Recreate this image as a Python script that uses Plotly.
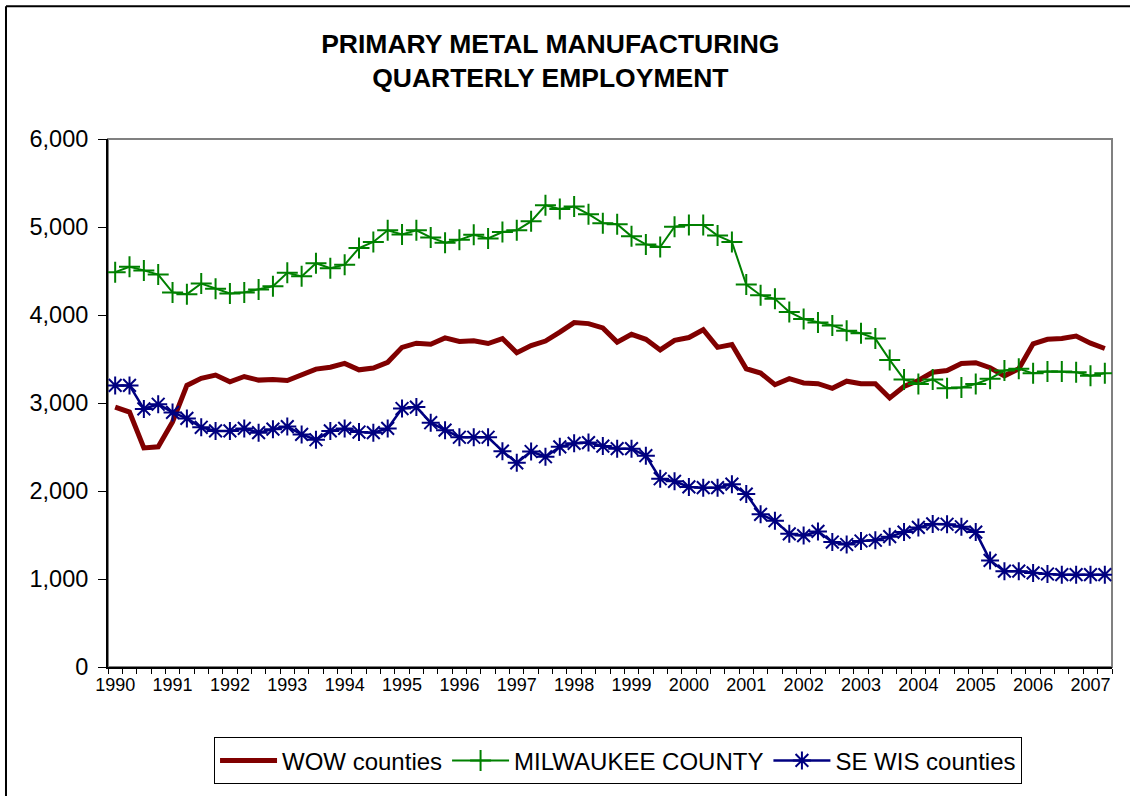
import plotly.graph_objects as go

# quarterly employment, 1990 Q1 .. 2007 Q2
years = [str(y) for y in range(1990, 2008)]
quarters = [f"{y} Q{q}" for y in years for q in (1, 2, 3, 4)][:70]

wow = [2954, 2897, 2490, 2502, 2784, 3200, 3280, 3317, 3240, 3301, 3260, 3268, 3256, 3321, 3385, 3406, 3450, 3377,
       3397, 3462, 3632, 3680, 3668, 3740, 3700, 3708, 3676, 3732, 3571, 3652, 3704, 3805, 3914, 3902,
       3853, 3692, 3781, 3724, 3603, 3712, 3744, 3833, 3632, 3664, 3389, 3341, 3208, 3276, 3228, 3220, 3167,
       3248, 3220, 3220, 3058, 3187, 3256, 3349, 3369, 3450, 3458, 3401, 3309, 3389, 3672, 3724, 3732, 3761, 3680, 3619]

milwaukee = [4487, 4547, 4507, 4459, 4257, 4237, 4358, 4297, 4245, 4257, 4289, 4326, 4479, 4439, 4588, 4531, 4572, 4761,
             4830, 4963, 4915, 4963, 4882, 4822, 4854, 4911, 4870, 4943, 4963, 5064, 5246, 5205, 5233, 5145,
             5044, 5032, 4894, 4802, 4773, 5003, 5024, 5024, 4902, 4830, 4346, 4225, 4184, 4035, 3954, 3914, 3882,
             3821, 3793, 3732, 3490, 3268, 3216, 3268, 3167, 3176, 3216, 3276, 3369, 3389, 3337, 3357, 3357, 3349, 3309, 3337]

se_wis = [3200, 3200, 2933, 2986, 2893, 2825, 2724, 2683, 2683, 2711, 2663, 2703, 2732, 2643, 2582, 2683, 2711, 2670,
          2663, 2711, 2937, 2954, 2776, 2691, 2611, 2611, 2611, 2453, 2320, 2449, 2389, 2502, 2542, 2550,
          2510, 2481, 2481, 2401, 2139, 2110, 2046, 2038, 2038, 2078, 1965, 1735, 1662, 1513, 1493, 1541, 1420,
          1392, 1432, 1440, 1481, 1533, 1586, 1626, 1622, 1594, 1533, 1211, 1089, 1089, 1069, 1057, 1049, 1049, 1049, 1049]

FONT = "Liberation Sans, Arial, sans-serif"


def main():
    fig = go.Figure()
    fig.add_trace(go.Scatter(x=quarters, y=wow, name="WOW counties", mode="lines",
                             line=dict(color="#800000", width=5)))
    fig.add_trace(go.Scatter(x=quarters, y=milwaukee, name="MILWAUKEE COUNTY", mode="lines+markers",
                             line=dict(color="#008000", width=2),
                             marker=dict(symbol="cross-thin-open", size=15,
                                         line=dict(color="#008000", width=2))))
    fig.add_trace(go.Scatter(x=quarters, y=se_wis, name="SE WIS counties", mode="lines+markers",
                             line=dict(color="#000080", width=2.5),
                             marker=dict(symbol="asterisk-open", size=15,
                                         line=dict(color="#000080", width=2))))

    ticktext = [q[:4] if q.endswith("Q1") else "" for q in quarters]

    fig.update_layout(
        width=1130, height=796,
        paper_bgcolor="white", plot_bgcolor="white",
        margin=dict(l=108, r=18, t=139, b=124),
        font=dict(family=FONT, color="black"),
        title=dict(text="PRIMARY METAL MANUFACTURING<br>QUARTERLY EMPLOYMENT",
                   font=dict(size=26.5, family=FONT, color="black", weight="bold"),
                   x=0.487, xanchor="center", y=0.934, yanchor="middle"),
        xaxis=dict(type="category", range=[-0.5, 69.5],
                   tickmode="array", tickvals=quarters, ticktext=ticktext,
                   tickson="boundaries", ticks="outside", ticklen=5, tickwidth=1, tickcolor="black",
                   showline=True, linecolor="black", linewidth=2, showgrid=False, zeroline=False,
                   tickfont=dict(size=18), tickangle=0),
        yaxis=dict(range=[0, 6000], dtick=1000, tickformat=",", ticks="outside", ticklen=8,
                   tickwidth=1, tickcolor="black", showline=True, linecolor="black", linewidth=2,
                   showgrid=False, zeroline=False, tickfont=dict(size=23.5), ticklabelstandoff=5),
        legend=dict(orientation="h", x=0.508, xanchor="center", y=-0.1332, yanchor="top",
                    bordercolor="black", borderwidth=1, bgcolor="white",
                    font=dict(size=24), itemwidth=57, tracegroupgap=0),
        showlegend=True,
        shapes=[
            dict(type="rect", xref="paper", yref="paper", x0=0, x1=1, y0=0, y1=1,
                 line=dict(color="#808080", width=2), layer="below"),
            dict(type="line", xref="paper", yref="paper", x0=-0.1016, x1=-0.1016, y0=-0.3, y1=1.2514,
                 line=dict(color="black", width=2)),
            dict(type="line", xref="paper", yref="paper", x0=-0.1016, x1=1.05, y0=1.2514, y1=1.2514,
                 line=dict(color="black", width=2)),
        ],
    )
    # drop the default body margin so the figure sits at the page origin
    fig.write_html("out.html", config={"displayModeBar": False},
                   post_script="document.body.style.margin='0';")


if __name__ == "__main__":
    main()
